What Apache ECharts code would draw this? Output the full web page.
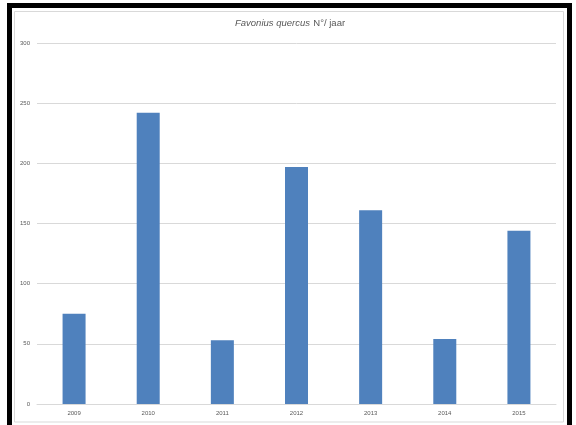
<!DOCTYPE html>
<html>
<head>
<meta charset="utf-8">
<script src="https://cdn.jsdelivr.net/npm/echarts@6/dist/echarts.min.js"></script>
<style>
html,body{margin:0;padding:0;background:#fff;}
#c{width:576px;height:425px;}
</style>
</head>
<body>
<div id="c"></div>
<script>
const categories = ['2009','2010','2011','2012','2013','2014','2015'];
const values = [75, 242, 53, 197, 161, 54, 144];
const yTicks = [0, 50, 100, 150, 200, 250, 300];

const chart = echarts.init(document.getElementById('c'), null, {renderer:'canvas'});
chart.setOption({
  animation: false,
  backgroundColor: '#fff',
  graphic: [
    {type:'rect', shape:{x:9.5, y:5.5, width:560, height:430}, style:{fill:null, stroke:'#000', lineWidth:5}, silent:true, z:-1},
    {type:'rect', shape:{x:14.5, y:11.5, width:549, height:410.5}, style:{fill:null, stroke:'#d9d9d9', lineWidth:1}, silent:true, z:-1},
    {type:'text', left:235, top:17, silent:true,
     style:{text:'{i|Favonius quercus} {n|N°/ jaar}', rich:{
       i:{fontStyle:'italic', fontFamily:'Liberation Sans', fontSize:9.5, fill:'#595959'},
       n:{fontStyle:'normal', fontFamily:'Liberation Sans', fontSize:9.5, fill:'#595959'}
     }}}
  ],
  grid: {left: 37, right: 20, top: 43, bottom: 21, containLabel: false},
  xAxis: {
    type: 'category', data: categories,
    axisLine: {lineStyle:{color:'#d9d9d9', width:1}},
    axisTick: {show:false},
    axisLabel: {color:'#595959', fontSize:6, fontFamily:'Liberation Sans', margin:6}
  },
  yAxis: {
    type: 'value', min: yTicks[0], max: yTicks[yTicks.length-1], interval: 50,
    axisLine: {show:false}, axisTick: {show:false},
    splitLine: {lineStyle:{color:'#d9d9d9', width:1}},
    axisLabel: {color:'#595959', fontSize:6, fontFamily:'Liberation Sans', margin:7}
  },
  series: [{
    type: 'bar', data: values, barWidth: 23,
    itemStyle: {color:'#4f81bd'}
  }]
});
</script>
</body>
</html>
